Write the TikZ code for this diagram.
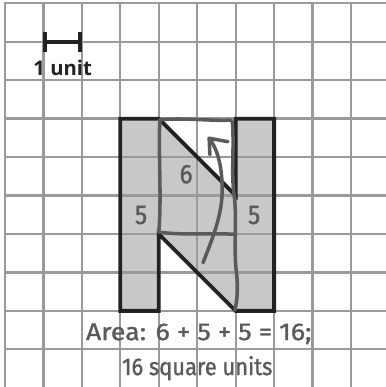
\documentclass[tikz,border=0pt]{standalone}
\usepackage{fontspec}
\usepackage{tikz}
\usetikzlibrary{arrows.meta,positioning,calc}
\newfontfamily\handfont{Fira Sans}[FakeStretch=0.9, FakeBold=1.2]
\newfontfamily\handwide{Fira Sans}[FakeStretch=1.1, FakeBold=1.2]
\newfontfamily\unitfont{Open Sans}
\definecolor{gridGray} {HTML}{9A9A9E}
\definecolor{shapeFill}{HTML}{C8C8C8}
\definecolor{ink}      {HTML}{222222}
\definecolor{pencil}   {HTML}{5A5A5A}

\begin{document}
\begin{tikzpicture}[
   gridline/.style={draw=gridGray, line width=1.7pt, line cap=rect},
   outline/.style={draw=ink, line width=2.8pt, line join=miter},
   hand/.style={draw=pencil, line width=2.6pt, line cap=round, line join=round},
   numlab/.style={font=\handfont\fontsize{20}{24}\selectfont, text=pencil,
                  inner sep=0pt, anchor=base},
   arealab/.style={font=\handwide\fontsize{18}{22}\selectfont, text=pencil,
                   inner sep=0pt, anchor=base},
   unitslab/.style={font=\handfont\fontsize{18}{22}\selectfont, text=pencil,
                    inner sep=0pt, anchor=base},
   unitlab/.style={font=\unitfont\bfseries\fontsize{15}{18}\selectfont, text=ink,
                   inner sep=0pt, anchor=base}
]
\useasboundingbox (-0.13,0.02) rectangle (9.91,10.086);
\fill[shapeFill] (3,2) -- (3,7) -- (4,7) -- (6,5) -- (6,7) -- (7,7) -- (7,2) -- (6,2)
  -- (4,4) -- (4,2) -- cycle;
\foreach \i in {0,...,10}{
  \draw[gridline] (\i,-0.5) -- (\i,10);
  \draw[gridline] (0,\i) -- (10.5,\i);
}
\draw[outline] (3,2) -- (3,7) -- (4,7) -- (6,5) -- (6,7) -- (7,7) -- (7,2) -- (6,2)
  -- (4,4) -- (4,2) -- cycle;
\draw[hand] (4.03,6.97) .. controls (4.6,7.03) and (5.3,6.94) .. (5.82,6.96)
  .. controls (5.92,6.96) and (5.92,6.92) .. (5.92,6.8)
  .. controls (5.96,6.2) and (5.88,5.6) .. (5.96,5.0)
  .. controls (6.04,4.4) and (5.94,3.6) .. (6.02,3.0)
  .. controls (6.08,2.5) and (6.02,2.2) .. (5.98,2.02);
\draw[hand] (4.03,6.97) .. controls (3.98,6.2) and (4.08,5.0) .. (4.0,4.05);
\draw[hand] (4.0,4.05) .. controls (4.6,3.96) and (5.4,4.03) .. (6.0,3.99);
\coordinate (arrowStart) at (5.15,3.25);
\coordinate (arrowTip) at (5.31,6.49);
\draw[hand] (arrowStart)
  .. controls (5.4,3.9) and (5.66,4.5) .. (5.65,5.2)
  .. controls (5.64,5.8) and (5.52,6.22) .. (arrowTip);
\draw[hand] ($(arrowTip)+(0.49,-0.09)$) -- (arrowTip) -- ($(arrowTip)+(0.02,-0.43)$);
\coordinate (unitL) at (1,9);
\coordinate (unitR) at (2,9);
\draw[outline, {Bar[width=5.2mm]}-{Bar[width=5.2mm]}] (unitL) -- (unitR);
\node[unitlab] (unit) at (1.5,8.135) {1 unit};
\node[numlab] (six) at (4.71,5.32) {6};
\node[numlab] (fiveL) at (3.54,4.26) {5};
\node[numlab] (fiveR) at (6.48,4.26) {5};
\node[arealab] (area) at (5.04,1.24) {Area: 6 + 5 + 5 = 16;};
\node[unitslab] (units) at (5.0,0.33) {16 square units};
\end{tikzpicture}
\end{document}
